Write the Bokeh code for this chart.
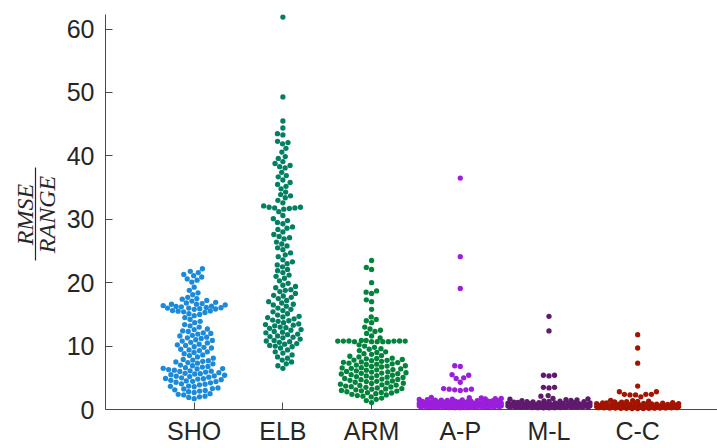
import numpy as np
from bokeh.plotting import figure
from bokeh.models import Range1d, FixedTicker
from bokeh.core.properties import value
from bokeh.embed import file_html
from bokeh.resources import INLINE

categories = ["SHO", "ELB", "ARM", "A-P", "M-L", "C-C"]
colors = ["#1a8ad9", "#007f62", "#00843c", "#9a1edc", "#5f1a6e", "#a31400"]
y_ticks = [0, 10, 20, 30, 40, 50, 60]

sho = [22.2, 21.8, 21.6, 21.3, 21.1, 20.9, 20.6, 20.4, 20.1,
       19.3, 18.8, 18.4, 18.1,
       17.7, 17.5, 17.4, 17.2, 17.1, 16.9, 16.8, 16.7, 16.6, 16.6, 16.5, 16.4, 16.3,
       16.25, 16.2, 16.1, 16.05, 16.0, 16.0, 15.9, 15.85, 15.8, 15.6, 15.55, 15.5, 15.4,
       15.3, 15.1, 15.0, 14.8,
       14.5, 14.2, 13.9, 13.7, 13.4, 13.2, 13.0,
       12.7, 12.6, 12.4, 12.3, 12.1, 12.0, 11.9, 11.7, 11.6, 11.4, 11.3, 11.2, 11.0,
       10.9, 10.8, 10.6, 10.5, 10.3, 10.2, 10.1, 9.9, 9.8, 9.7, 9.5, 9.4, 9.3, 9.1, 9.0,
       8.8, 8.6, 8.5, 8.3, 8.1,
       7.9, 7.8, 7.7, 7.6, 7.5, 7.4, 7.3, 7.2, 7.0, 6.9, 6.8, 6.7, 6.6, 6.5, 6.4, 6.3,
       6.2, 6.1, 6.0, 5.9, 5.8, 5.7, 5.6, 5.5, 5.4, 5.3, 5.2, 5.1, 5.0, 4.9, 4.8, 4.7,
       4.6, 4.5, 4.4, 4.3, 4.2, 4.0, 3.9, 3.7, 3.6, 3.4, 3.3, 3.1, 3.0, 2.8,
       6.45, 6.05, 5.65, 5.25, 4.85, 4.45, 4.05, 3.65, 3.25, 2.9,
       2.7, 2.5, 2.4, 2.3, 2.1, 2.0, 1.9, 1.7]

elb = [61.9, 49.3, 45.5, 44.4, 43.5, 43.3, 42.3, 42.1, 41.9, 41.2, 40.6,
       39.9, 39.6, 39.1, 38.8, 38.5, 38.3, 38.1, 37.4, 36.9, 36.7, 36.2, 35.8, 35.5, 35.2,
       34.8, 34.3, 33.9, 33.7, 33.4, 33.0, 32.6, 32.1, 31.9, 31.9, 31.8, 31.8, 31.7, 31.6, 31.2,
       30.6, 30.1, 29.8, 29.3, 28.8, 28.4, 28.0, 27.6, 27.3, 26.9, 26.4,
       29.5, 28.6, 27.1, 26.1, 25.5, 24.4, 23.3, 22.8, 21.9, 21.0,
       25.8, 25.2, 24.7, 24.1, 23.6, 23.0, 22.5, 22.1, 21.6, 21.2, 20.7,
       20.3, 19.9, 19.6, 19.2, 18.9, 18.6, 18.3, 18.0, 17.7, 17.5, 17.2, 17.0, 16.8,
       16.5, 16.3, 16.0, 15.8, 15.6, 15.4,
       15.1, 14.9, 14.7, 14.5, 14.3, 14.1, 13.9, 13.7, 13.5, 13.4, 13.2, 13.0, 12.8,
       12.6, 12.5, 12.3, 12.1, 11.9, 11.8, 11.6, 11.4, 11.3, 11.1, 10.9, 10.8, 10.6,
       10.4, 10.3, 10.1, 9.9,
       14.6, 14.0, 13.3, 12.9, 12.2, 11.5, 10.7, 10.0, 16.6, 17.9, 18.8, 19.4,
       9.7, 9.4, 9.1, 8.9, 8.6, 8.3, 8.1, 7.8, 7.5, 7.2, 6.9, 6.5]

arm = [23.5, 22.4, 22.1, 20.0, 18.7, 18.5, 18.3, 17.3, 17.0, 15.8, 14.6, 14.2, 14.0,
       13.7, 13.0, 12.7, 12.5, 12.3, 12.0, 11.6, 11.3,
       10.9, 10.9, 10.8, 10.8, 10.8, 10.8, 10.8, 10.8, 10.7, 10.7, 10.7, 10.7, 10.7,
       10.2, 10.0, 9.8, 9.6, 9.5, 9.3, 9.1, 9.0, 8.8, 8.7, 8.5, 8.4, 8.3, 8.1, 8.05, 8.0,
       7.9, 7.8, 7.75, 7.7, 7.6, 7.5, 7.45, 7.4, 7.3, 7.2, 7.15, 7.1, 7.0, 6.9, 6.85, 6.8,
       6.7, 6.6, 6.55, 6.5, 6.4, 6.3, 6.25, 6.2, 6.1, 6.0, 5.95, 5.9, 5.8, 5.75, 5.7,
       5.65, 5.6, 5.5, 5.4, 5.35, 5.3, 5.2, 5.1, 5.05, 5.0, 4.9, 4.8, 4.75, 4.7, 4.6,
       4.5, 4.45, 4.4, 4.3, 4.2, 4.15, 4.1, 4.0, 3.9, 3.85, 3.8, 3.7, 3.6, 3.55, 3.5,
       3.4, 3.3, 3.25, 3.2, 3.1, 3.0, 2.95, 2.9, 2.8, 2.7, 2.65, 2.6, 2.5, 2.4, 2.3,
       2.2, 2.1, 2.0, 1.8, 1.6, 1.4, 1.1]

ap = [36.5, 24.1, 19.1, 6.9, 6.8, 5.5, 5.4, 5.0, 4.9, 4.3, 3.3, 3.2, 3.1, 3.1, 3.0, 3.2,
      1.92, 1.85, 1.81, 1.74, 1.70, 1.66, 1.62, 1.58, 1.55, 1.52, 1.49, 1.46, 1.43,
      1.41, 1.38, 1.35, 1.33, 1.30, 1.28, 1.26, 1.24, 1.22, 1.20, 1.18, 1.16, 1.14,
      1.12, 1.10, 1.08, 1.06, 1.04, 1.02, 1.00, 0.98, 0.97, 0.95, 0.93, 0.91, 0.90,
      0.88, 0.86, 0.85, 0.83, 0.82, 0.80, 0.79, 0.77, 0.76, 0.74, 0.73, 0.71, 0.70,
      0.68, 0.67, 0.66, 0.64, 0.63, 0.62, 0.60, 0.59, 0.58, 0.57, 0.55, 0.54, 0.53,
      0.52, 0.51, 0.50, 0.49, 0.48, 0.47, 0.46, 0.45, 0.44, 0.43, 0.42, 0.41, 0.40,
      0.39, 0.38, 0.37, 0.36, 0.35, 0.34, 0.33, 0.32, 0.31, 0.30, 0.29, 0.28]

ml = [14.7, 12.4, 5.4, 5.4, 5.3, 3.5, 3.5, 3.4, 2.2, 2.1,
      1.75, 1.68, 1.62, 1.55, 1.50, 1.45, 1.40, 1.36, 1.32, 1.28, 1.25, 1.22, 1.19,
      1.16, 1.13, 1.10, 1.08, 1.05, 1.03, 1.00, 0.98, 0.96, 0.94, 0.92, 0.90, 0.88,
      0.86, 0.84, 0.82, 0.80, 0.79, 0.77, 0.75, 0.74, 0.72, 0.71, 0.69, 0.68, 0.66,
      0.65, 0.64, 0.62, 0.61, 0.60, 0.58, 0.57, 0.56, 0.55, 0.53, 0.52, 0.51, 0.50,
      0.49, 0.48, 0.47, 0.46, 0.45, 0.44, 0.43, 0.42, 0.41, 0.40, 0.39, 0.38, 0.37,
      0.36, 0.35, 0.34, 0.33, 0.32, 0.31, 0.30, 0.29, 0.28, 0.27, 0.26]

cc = [11.8, 9.7, 7.3, 3.7, 2.8, 2.8, 2.4, 2.4, 2.4, 2.3, 2.3, 2.0,
      1.45, 1.38, 1.32, 1.27, 1.22, 1.18, 1.14, 1.10, 1.06, 1.03, 1.00, 0.97, 0.94,
      0.91, 0.88, 0.86, 0.84, 0.82, 0.80, 0.78, 0.76, 0.74, 0.72, 0.70, 0.68, 0.66,
      0.65, 0.63, 0.61, 0.60, 0.58, 0.57, 0.55, 0.54, 0.52, 0.51, 0.50, 0.48, 0.47,
      0.46, 0.45, 0.43, 0.42, 0.41, 0.40, 0.39, 0.38, 0.37, 0.36, 0.35, 0.34, 0.33,
      0.32, 0.31, 0.30, 0.29, 0.28, 0.27, 0.26, 0.25, 0.24, 0.23, 0.22, 0.21, 0.20,
      0.19, 0.18, 0.17, 0.16, 0.15]

series = [sho, elb, arm, ap, ml, cc]
half_widths = [31, 25, 35, 41, 41, 41]

# ---- layout ----
W, H = 717, 448
BL, BR, BT, BB = 105, 0, 14, 39
X_END = 6.9
Y_END = 62.3
fw = W - BL - BR
fh = H - BT - BB
sx = fw / X_END
sy = fh / Y_END
D = 5.6  # dot spacing in px


def swarm(vals, cap):
    vals = np.asarray(vals, float)
    order = np.argsort(vals, kind="stable")
    xs = np.zeros(len(vals))
    placed = []
    grid = np.linspace(-cap, cap, 83)
    for i in order:
        y = vals[i] * sy
        near = [(px, py) for px, py in placed if abs(py - y) < D]
        cands = [0.0]
        for px, py in near:
            dx = np.sqrt(max(D * D - (py - y) ** 2, 0.0))
            cands += [px + dx, px - dx]
        cands.sort(key=lambda c: (round(abs(c), 6), c))
        best = None
        for c in cands:
            if abs(c) > cap + 1e-9:
                continue
            if all((c - px) ** 2 + (y - py) ** 2 >= D * D - 1e-6 for px, py in near):
                best = c
                break
        if best is None:
            def score(c):
                return min((c - px) ** 2 + (y - py) ** 2 for px, py in near)
            best = max(grid, key=lambda c: (score(c), -abs(c)))
        placed.append((best, y))
        xs[i] = best
    return xs / sx


p = figure(width=W, height=H, output_backend="svg", toolbar_location=None,
           x_range=Range1d(0, X_END), y_range=Range1d(0, Y_END),
           min_border_left=BL, min_border_right=BR, min_border_top=BT,
           min_border_bottom=BB)
p.outline_line_color = None
p.grid.visible = False
p.background_fill_color = "white"
p.border_fill_color = "white"

for k, (vals, col) in enumerate(zip(series, colors)):
    offs = swarm(vals, half_widths[k])
    xs = (k + 1) + offs
    p.scatter(x=xs, y=vals, size=5.3, fill_color=col, line_color=None, level="overlay")

axis_col = "#4a4a4a"
txt_col = "#262626"
for ax in (p.xaxis[0], p.yaxis[0]):
    ax.axis_line_color = axis_col
    ax.axis_line_width = 1
    ax.major_tick_line_color = axis_col
    ax.major_tick_in = 7
    ax.major_tick_out = 0
    ax.minor_tick_line_color = None
    ax.major_label_text_color = txt_col
    ax.major_label_text_font = "Liberation Sans"

p.yaxis.ticker = FixedTicker(ticks=y_ticks)
p.yaxis.major_label_text_font_size = "25px"
p.yaxis.major_label_standoff = 11

p.xaxis.ticker = FixedTicker(ticks=list(range(1, len(categories) + 1)))
p.xaxis.major_label_overrides = {i + 1: c for i, c in enumerate(categories)}
p.xaxis.major_label_text_font_size = "25px"
p.xaxis.major_label_standoff = 7

# y-axis label: fraction RMSE / RANGE (drawn as text outside the frame)
def px_to_x(px):
    return (px - BL) / sx


def py_to_y(py):
    return (H - BB - py) / sy


txt_kw = dict(angle=np.pi / 2, text_font=value("Liberation Serif"),
              text_font_style="italic", text_font_size="24px", text_color=txt_col,
              text_align="center", text_baseline="middle", level="overlay")
p.text(x=[px_to_x(24)], y=[py_to_y(214)], text=["RMSE"], **txt_kw)
p.text(x=[px_to_x(46)], y=[py_to_y(214)], text=["RANGE"], **txt_kw)
p.segment(x0=[px_to_x(35)], y0=[py_to_y(260)], x1=[px_to_x(35)], y1=[py_to_y(167)],
          line_color=txt_col, line_width=1.2, level="overlay")

open("out.html", "w").write(file_html(p, INLINE))
